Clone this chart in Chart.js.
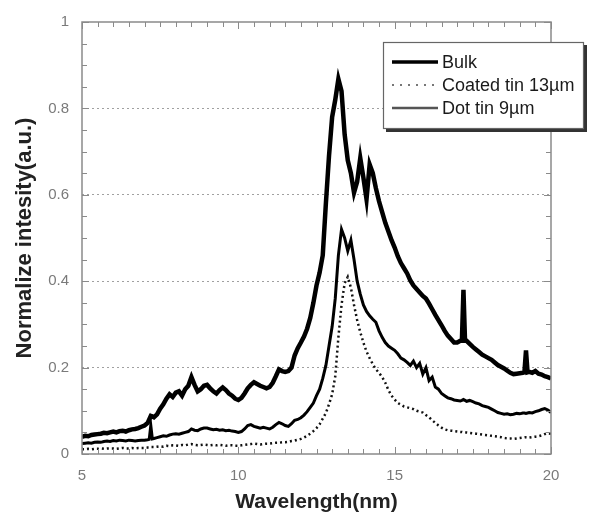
<!DOCTYPE html>
<html>
<head>
<meta charset="utf-8">
<script src="https://cdn.jsdelivr.net/npm/chart.js@4"></script>
<style>
  html, body { margin: 0; padding: 0; background: #fff; }
  canvas { display: block; }
</style>
</head>
<body>
<canvas id="c" width="591" height="517"></canvas>
<script>
// ---- data ----
const wavelength = [
  5.0,5.1,5.2,5.3,5.4,5.5,5.6,5.7,5.8,5.9,
  6.0,6.1,6.2,6.3,6.4,6.5,6.6,6.7,6.8,6.9,
  7.0,7.1,7.15,7.2,7.25,7.3,7.4,7.5,7.6,7.7,7.8,7.9,
  8.0,8.1,8.2,8.3,8.4,8.5,8.6,8.7,8.8,8.9,
  9.0,9.1,9.2,9.3,9.4,9.5,9.6,9.7,9.8,9.9,
  10.0,10.1,10.2,10.3,10.4,10.5,10.6,10.7,10.8,10.9,
  11.0,11.1,11.2,11.3,11.4,11.5,11.6,11.7,11.8,11.9,
  12.0,12.1,12.2,12.3,12.4,12.5,12.6,12.7,12.8,12.9,
  13.0,13.1,13.2,13.3,13.4,13.5,13.6,13.7,13.8,13.9,
  14.0,14.1,14.2,14.3,14.4,14.5,14.6,14.7,14.8,14.9,
  15.0,15.1,15.2,15.3,15.4,15.5,15.6,15.7,15.8,15.9,
  16.0,16.1,16.2,16.3,16.4,16.5,16.6,16.7,16.8,16.9,
  17.0,17.1,17.15,17.2,17.25,17.3,17.4,17.5,17.6,17.7,17.8,17.9,
  18.0,18.1,18.2,18.3,18.4,18.5,18.6,18.7,18.8,18.9,
  19.0,19.1,19.15,19.2,19.25,19.3,19.4,19.5,19.6,19.7,19.8,19.9,
  20.0
];

const bulk = [
  0.040,0.042,0.041,0.044,0.045,0.046,0.047,0.049,0.048,0.050,
  0.052,0.050,0.053,0.054,0.052,0.055,0.057,0.058,0.060,0.063,
  0.066,0.072,0.080,0.088,0.087,0.085,0.092,0.105,0.115,0.128,0.138,0.132,
  0.142,0.145,0.135,0.150,0.158,0.178,0.160,0.145,0.150,0.158,
  0.160,0.152,0.145,0.140,0.148,0.154,0.148,0.140,0.135,0.128,
  0.125,0.130,0.140,0.152,0.160,0.166,0.162,0.158,0.155,0.152,
  0.155,0.165,0.180,0.196,0.192,0.190,0.192,0.200,0.228,0.245,
  0.258,0.272,0.290,0.315,0.350,0.390,0.420,0.460,0.580,0.690,
  0.780,0.820,0.868,0.840,0.740,0.680,0.650,0.605,0.630,0.685,
  0.640,0.590,0.670,0.650,0.615,0.585,0.560,0.535,0.515,0.495,
  0.478,0.458,0.442,0.430,0.418,0.402,0.390,0.382,0.374,0.366,
  0.360,0.348,0.335,0.322,0.310,0.298,0.285,0.274,0.266,0.258,
  0.258,0.262,0.262,0.380,0.262,0.262,0.255,0.248,0.242,0.236,0.230,0.226,
  0.222,0.218,0.212,0.206,0.202,0.198,0.193,0.188,0.185,0.186,
  0.187,0.188,0.189,0.240,0.189,0.190,0.188,0.192,0.186,0.184,0.180,0.178,
  0.175
];

const coatedTin = [
  0.011,0.011,0.012,0.011,0.012,0.012,0.013,0.012,0.013,0.013,
  0.013,0.012,0.013,0.014,0.013,0.013,0.014,0.013,0.014,0.014,
  0.014,0.015,0.015,0.016,0.016,0.016,0.017,0.018,0.017,0.019,0.018,0.020,
  0.020,0.019,0.021,0.020,0.022,0.023,0.021,0.020,0.021,0.022,
  0.021,0.020,0.021,0.020,0.021,0.020,0.019,0.020,0.020,0.019,
  0.019,0.020,0.021,0.022,0.023,0.024,0.023,0.022,0.023,0.024,
  0.024,0.025,0.026,0.026,0.027,0.027,0.028,0.030,0.031,0.033,
  0.035,0.038,0.042,0.047,0.053,0.060,0.069,0.082,0.095,0.115,
  0.138,0.180,0.270,0.345,0.395,0.410,0.385,0.345,0.310,0.282,
  0.258,0.237,0.222,0.208,0.196,0.188,0.178,0.165,0.148,0.135,
  0.126,0.118,0.114,0.110,0.108,0.106,0.104,0.100,0.098,0.096,
  0.090,0.085,0.078,0.072,0.066,0.061,0.057,0.055,0.054,0.053,
  0.052,0.051,0.051,0.050,0.050,0.050,0.049,0.048,0.047,0.046,0.045,0.044,
  0.043,0.042,0.041,0.040,0.039,0.037,0.036,0.036,0.035,0.036,
  0.037,0.038,0.038,0.039,0.039,0.038,0.039,0.040,0.041,0.043,0.046,0.048,
  0.047
];

const dotTin = [
  0.024,0.025,0.026,0.025,0.027,0.028,0.027,0.029,0.030,0.029,
  0.031,0.030,0.032,0.031,0.030,0.032,0.031,0.030,0.031,0.032,
  0.032,0.033,0.034,0.066,0.035,0.036,0.038,0.040,0.042,0.041,0.044,0.046,
  0.047,0.046,0.048,0.050,0.052,0.058,0.055,0.054,0.058,0.060,
  0.060,0.058,0.056,0.057,0.055,0.056,0.054,0.055,0.053,0.052,
  0.050,0.052,0.058,0.066,0.068,0.064,0.062,0.060,0.062,0.060,
  0.058,0.062,0.068,0.073,0.070,0.066,0.064,0.070,0.078,0.080,
  0.084,0.090,0.098,0.108,0.118,0.135,0.150,0.175,0.205,0.250,
  0.295,0.360,0.460,0.520,0.500,0.470,0.495,0.450,0.400,0.370,
  0.345,0.330,0.320,0.312,0.305,0.285,0.270,0.258,0.250,0.245,
  0.240,0.232,0.222,0.218,0.212,0.205,0.215,0.200,0.210,0.185,
  0.200,0.170,0.178,0.155,0.150,0.140,0.135,0.130,0.128,0.125,
  0.124,0.123,0.124,0.126,0.124,0.122,0.124,0.121,0.118,0.116,0.112,0.110,
  0.108,0.104,0.100,0.096,0.094,0.092,0.093,0.091,0.092,0.094,
  0.093,0.095,0.095,0.094,0.095,0.096,0.095,0.098,0.100,0.103,0.105,0.102,
  0.096
];

const seriesLabels = ['Bulk', 'Coated tin 13\u00b5m', 'Dot tin 9\u00b5m'];
const xTickValues = [5, 10, 15, 20];
const yTickValues = [0, 0.2, 0.4, 0.6, 0.8, 1];

// ---- build datasets ----
function pairs(ys) { return wavelength.map((w, i) => ({ x: w, y: ys[i] })); }

const FONT = "'Liberation Sans', Arial, sans-serif";

const framePlugin = {
  id: 'frameTicks',
  afterDatasetsDraw(chart) {
    const { ctx, chartArea: a, scales: { x, y } } = chart;
    ctx.save();
    ctx.strokeStyle = '#8a8a8a';
    ctx.lineWidth = 1;
    ctx.beginPath();
    for (let v = 5; v <= 20.001; v += 0.5) {
      const px = Math.round(x.getPixelForValue(v)) + 0.5;
      const major = Math.abs(v - Math.round(v / 5) * 5) < 1e-6;
      const len = major ? 7 : 5;
      ctx.moveTo(px, a.bottom); ctx.lineTo(px, a.bottom - len);
      ctx.moveTo(px, a.top); ctx.lineTo(px, a.top + len);
    }
    for (let v = 0; v <= 1.0001; v += 0.05) {
      const py = Math.round(y.getPixelForValue(v)) + 0.5;
      const major = Math.abs(v * 5 - Math.round(v * 5)) < 1e-6;
      const len = major ? 7 : 5;
      ctx.moveTo(a.left, py); ctx.lineTo(a.left + len, py);
      ctx.moveTo(a.right, py); ctx.lineTo(a.right - len, py);
    }
    ctx.stroke();
    ctx.lineWidth = 1.5;
    ctx.strokeStyle = '#8a8a8a';
    ctx.strokeRect(a.left, a.top, a.right - a.left, a.bottom - a.top);
    ctx.restore();
  },
  afterDraw(chart) {
    const { ctx } = chart;
    const box = { l: 383, t: 42, r: 584, b: 129 };
    ctx.save();
    ctx.fillStyle = '#333';
    ctx.fillRect(box.l + 3, box.b, box.r - box.l, 3);
    ctx.fillRect(box.r, box.t + 3, 3, box.b - box.t);
    ctx.fillStyle = '#fff';
    ctx.fillRect(box.l, box.t, box.r - box.l, box.b - box.t);
    ctx.strokeStyle = '#666';
    ctx.lineWidth = 1.2;
    ctx.strokeRect(box.l + 0.5, box.t + 0.5, box.r - box.l - 1, box.b - box.t - 1);
    const rows = [62, 85, 108];
    const styles = [
      { w: 3.5, c: '#000', dash: [] },
      { w: 2, c: '#777', dash: [2, 6] },
      { w: 2.5, c: '#555', dash: [] }
    ];
    chart.data.datasets.forEach((ds, i) => {
      const yy = rows[i];
      ctx.beginPath();
      ctx.setLineDash(styles[i].dash);
      ctx.lineWidth = styles[i].w;
      ctx.strokeStyle = styles[i].c;
      ctx.moveTo(392, yy); ctx.lineTo(438, yy);
      ctx.stroke();
      ctx.setLineDash([]);
      ctx.fillStyle = '#1a1a1a';
      ctx.font = '18px ' + FONT;
      ctx.textBaseline = 'middle';
      ctx.textAlign = 'left';
      ctx.fillText(ds.label, 442, yy + 1);
    });
    ctx.restore();
  }
};

new Chart(document.getElementById('c'), {
  type: 'line',
  data: {
    datasets: [
      { label: seriesLabels[0], data: pairs(bulk), borderColor: '#000', borderWidth: 4.5, pointRadius: 0, tension: 0, order: 1 },
      { label: seriesLabels[1], data: pairs(coatedTin), borderColor: '#111', borderWidth: 2.5, borderDash: [2, 3], pointRadius: 0, tension: 0, order: 3 },
      { label: seriesLabels[2], data: pairs(dotTin), borderColor: '#000', borderWidth: 3, pointRadius: 0, tension: 0, order: 2 }
    ]
  },
  options: {
    responsive: false,
    animation: false,
    devicePixelRatio: 1,
    layout: { padding: { left: 0, top: 16, right: 40, bottom: 0 } },
    plugins: { legend: { display: false }, tooltip: { enabled: false } },
    scales: {
      x: {
        type: 'linear', min: 5, max: 20,
        afterFit(s) { s.height = 63; },
        afterBuildTicks(s) { s.ticks = xTickValues.map(v => ({ value: v })); },
        grid: { display: false, drawTicks: false },
        border: { display: false },
        ticks: { padding: 13, color: '#7a7a7a', font: { family: FONT, size: 15 }, maxRotation: 0,
                 callback: v => String(Number(Number(v).toFixed(2))) },
        title: { display: true, text: 'Wavelength(nm)', color: '#222', font: { family: FONT, size: 21, weight: 'bold' }, padding: { top: 0, bottom: 2 } }
      },
      y: {
        type: 'linear', min: 0, max: 1,
        afterFit(s) { s.width = 82; },
        afterBuildTicks(s) { s.ticks = yTickValues.map(v => ({ value: v })); },
        grid: {
          drawTicks: false,
          color: c => (c.tick && (c.tick.value === 0 || c.tick.value === 1)) ? 'rgba(0,0,0,0)' : '#a0a0a0',
          lineWidth: 1
        },
        border: { display: false, dash: [2, 3] },
        ticks: { padding: 13, color: '#7a7a7a', font: { family: FONT, size: 15 },
                 callback: v => String(Number(Number(v).toFixed(2))) },
        title: { display: true, text: 'Normalize intesity(a.u.)', color: '#222', font: { family: FONT, size: 22, weight: 'bold' }, padding: { top: 12, bottom: 0 } }
      }
    }
  },
  plugins: [framePlugin]
});
</script>
</body>
</html>
